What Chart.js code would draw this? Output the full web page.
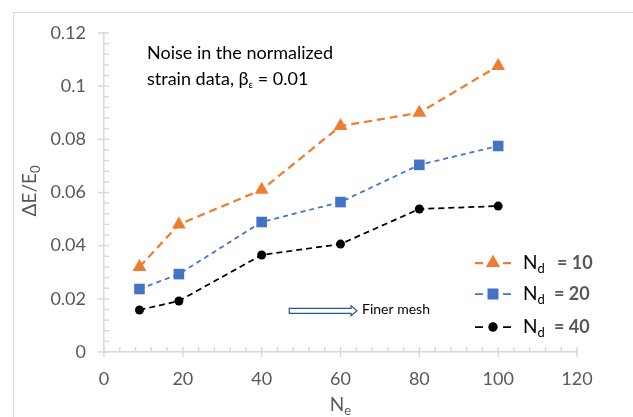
<!DOCTYPE html>
<html>
<head>
<meta charset="utf-8">
<script src="https://cdn.jsdelivr.net/npm/chart.js@4.4.1/dist/chart.umd.min.js"></script>
<style>
  html, body { margin: 0; padding: 0; background: #fff; overflow: hidden; }
</style>
</head>
<body>
<canvas id="chart" width="633" height="417"></canvas>
<script>
// number of elements (x) and relative modulus error for each number of data points
const nElements = [9, 19, 40, 60, 80, 100];
const nd10 = [0.032, 0.048, 0.061, 0.085, 0.090, 0.1076];
const nd20 = [0.0237, 0.0293, 0.0489, 0.0564, 0.0704, 0.0775];
const nd40 = [0.0158, 0.0192, 0.0365, 0.0406, 0.0538, 0.0549];

const xTickLabels = ['0', '20', '40', '60', '80', '100', '120'];
const yTickLabels = ['0', '0.02', '0.04', '0.06', '0.08', '0.1', '0.12'];
const seriesNames = ['10', '20', '40'];

const FONT = 'Lato, "Open Sans", sans-serif';
const GRAY = '#595959';
const AXIS = '#d9d9d9';

function pts(ys) {
  return nElements.map((x, i) => ({ x: x, y: ys[i] }));
}

const styles = [
  { color: '#ED7D31', point: 'triangle', radius: 8, width: 2.25, dash: [8, 5] },
  { color: '#4472C4', point: 'rect', radius: 7.5, width: 1.75, dash: [5, 4] },
  { color: '#000000', point: 'circle', radius: 4.5, width: 1.75, dash: [6, 4] }
];

const datasets = [nd10, nd20, nd40].map((ys, i) => ({
  label: 'Nd = ' + seriesNames[i],
  data: pts(ys),
  showLine: true,
  borderColor: styles[i].color,
  backgroundColor: styles[i].color,
  borderWidth: styles[i].width,
  borderDash: styles[i].dash,
  pointStyle: styles[i].point,
  pointRadius: styles[i].radius,
  pointBorderWidth: 0,
  pointBackgroundColor: styles[i].color,
  tension: 0
}));

// text with a subscript part, returns end x
function subText(ctx, main, sub, x, y, size, subSize, align) {
  ctx.font = size + 'px ' + FONT;
  const w1 = ctx.measureText(main).width;
  ctx.font = subSize + 'px ' + FONT;
  const w2 = ctx.measureText(sub).width;
  let sx = x;
  if (align === 'center') sx = x - (w1 + w2) / 2;
  ctx.textAlign = 'left';
  ctx.font = size + 'px ' + FONT;
  ctx.fillText(main, sx, y);
  ctx.font = subSize + 'px ' + FONT;
  ctx.fillText(sub, sx + w1, y + size * 0.3);
  return sx + w1 + w2;
}

const extras = {
  id: 'extras',
  beforeDatasetsDraw(chart) {
    const ctx = chart.ctx, xs = chart.scales.x, ys = chart.scales.y;
    const area = chart.chartArea;
    ctx.save();
    ctx.strokeStyle = AXIS;
    ctx.lineWidth = 1.5;
    // x ticks: major every 20, minor every 4
    for (let v = 0; v <= 120; v += 4) {
      const px = xs.getPixelForValue(v);
      const major = v % 20 === 0;
      ctx.beginPath();
      ctx.moveTo(px, area.bottom - 5);
      ctx.lineTo(px, major ? area.bottom + 5 : area.bottom);
      ctx.stroke();
    }
    // y ticks: major every 0.02, minor every 0.004
    for (let i = 0; i <= 30; i++) {
      const py = ys.getPixelForValue(i * 0.004);
      const major = i % 5 === 0;
      ctx.beginPath();
      ctx.moveTo(major ? area.left - 6 : area.left, py);
      ctx.lineTo(area.left + 5, py);
      ctx.stroke();
    }
    ctx.restore();
  },
  afterDraw(chart) {
    const ctx = chart.ctx, xs = chart.scales.x, ys = chart.scales.y;
    const area = chart.chartArea;
    ctx.save();

    // outer chart border
    ctx.strokeStyle = AXIS;
    ctx.lineWidth = 1;
    ctx.strokeRect(13.5, 12.5, 700, 500);

    ctx.textBaseline = 'middle';

    // y axis title
    ctx.save();
    ctx.translate(30, 191);
    ctx.rotate(-Math.PI / 2);
    ctx.fillStyle = GRAY;
    subText(ctx, 'ΔE/E', '0', 0, 0, 19, 13, 'center');
    ctx.restore();

    // x axis title
    ctx.fillStyle = GRAY;
    subText(ctx, 'N', 'e', (area.left + area.right) / 2, 405, 19, 13, 'center');

    // annotation
    ctx.fillStyle = '#000';
    ctx.font = '18px ' + FONT;
    ctx.textAlign = 'left';
    ctx.fillText('Noise in the normalized', 147, 53);
    let ex = subText(ctx, 'strain data, β', 'ε', 147, 79, 18, 10, 'left');
    ctx.font = '18px ' + FONT;
    ctx.fillText(' = 0.01', ex, 79);

    // hollow arrow "Finer mesh"
    const ax0 = xs.getPixelForValue(47), ax1 = xs.getPixelForValue(64.2);
    const ay = ys.getPixelForValue(0.0155);
    ctx.strokeStyle = '#2F5597';
    ctx.lineWidth = 1.2;
    ctx.fillStyle = '#fff';
    ctx.beginPath();
    ctx.moveTo(ax0, ay - 2.5);
    ctx.lineTo(ax1 - 6, ay - 2.5);
    ctx.lineTo(ax1 - 6, ay - 5);
    ctx.lineTo(ax1, ay);
    ctx.lineTo(ax1 - 6, ay + 5);
    ctx.lineTo(ax1 - 6, ay + 2.5);
    ctx.lineTo(ax0, ay + 2.5);
    ctx.closePath();
    ctx.fill();
    ctx.stroke();
    ctx.fillStyle = '#000';
    ctx.font = '14px ' + FONT;
    ctx.textAlign = 'left';
    ctx.fillText('Finer mesh', ax1 + 5, ay - 1);

    // legend
    const rows = [263, 294, 327];
    const eqX = [557, 554, 554];
    chart.data.datasets.forEach((ds, i) => {
      const ly = rows[i];
      ctx.strokeStyle = ds.borderColor;
      ctx.lineWidth = ds.borderWidth;
      ctx.setLineDash([]);
      ctx.beginPath();
      ctx.moveTo(475, ly); ctx.lineTo(483, ly);
      ctx.moveTo(503, ly); ctx.lineTo(511, ly);
      ctx.stroke();
      ctx.fillStyle = ds.backgroundColor;
      Chart.helpers.drawPoint(ctx, {
        pointStyle: ds.pointStyle,
        radius: ds.pointRadius,
        borderWidth: 0,
        rotation: 0
      }, 493, ly);
      ctx.fill();
      ctx.fillStyle = '#000';
      subText(ctx, 'N', 'd', 523, ly, 19, 13, 'left');
      ctx.fillStyle = GRAY;
      ctx.font = 'bold 18px ' + FONT;
      ctx.textAlign = 'left';
      ctx.fillText('= ' + seriesNames[i], eqX[i], ly);
    });

    ctx.restore();
  }
};

new Chart(document.getElementById('chart'), {
  type: 'scatter',
  data: { datasets: datasets },
  plugins: [extras],
  options: {
    responsive: false,
    animation: false,
    layout: { padding: { top: 33, right: 56, left: 0, bottom: 0 } },
    plugins: {
      legend: { display: false },
      tooltip: { enabled: false }
    },
    scales: {
      x: {
        type: 'linear',
        min: 0,
        max: 120,
        afterFit: (s) => { s.height = 65; },
        border: { color: AXIS, width: 1.5 },
        grid: { display: false, drawTicks: false },
        ticks: {
          stepSize: 20,
          padding: 16,
          color: GRAY,
          font: { family: FONT, size: 18 },
          callback: (v) => xTickLabels[Math.round(v / 20)]
        }
      },
      y: {
        min: 0,
        max: 0.12,
        afterFit: (s) => { s.width = 104; },
        border: { color: AXIS, width: 1.5 },
        grid: { display: false, drawTicks: false },
        ticks: {
          stepSize: 0.02,
          padding: 18,
          color: GRAY,
          font: { family: FONT, size: 18 },
          callback: (v) => yTickLabels[Math.round(v / 0.02)]
        }
      }
    }
  }
});
</script>
</body>
</html>
